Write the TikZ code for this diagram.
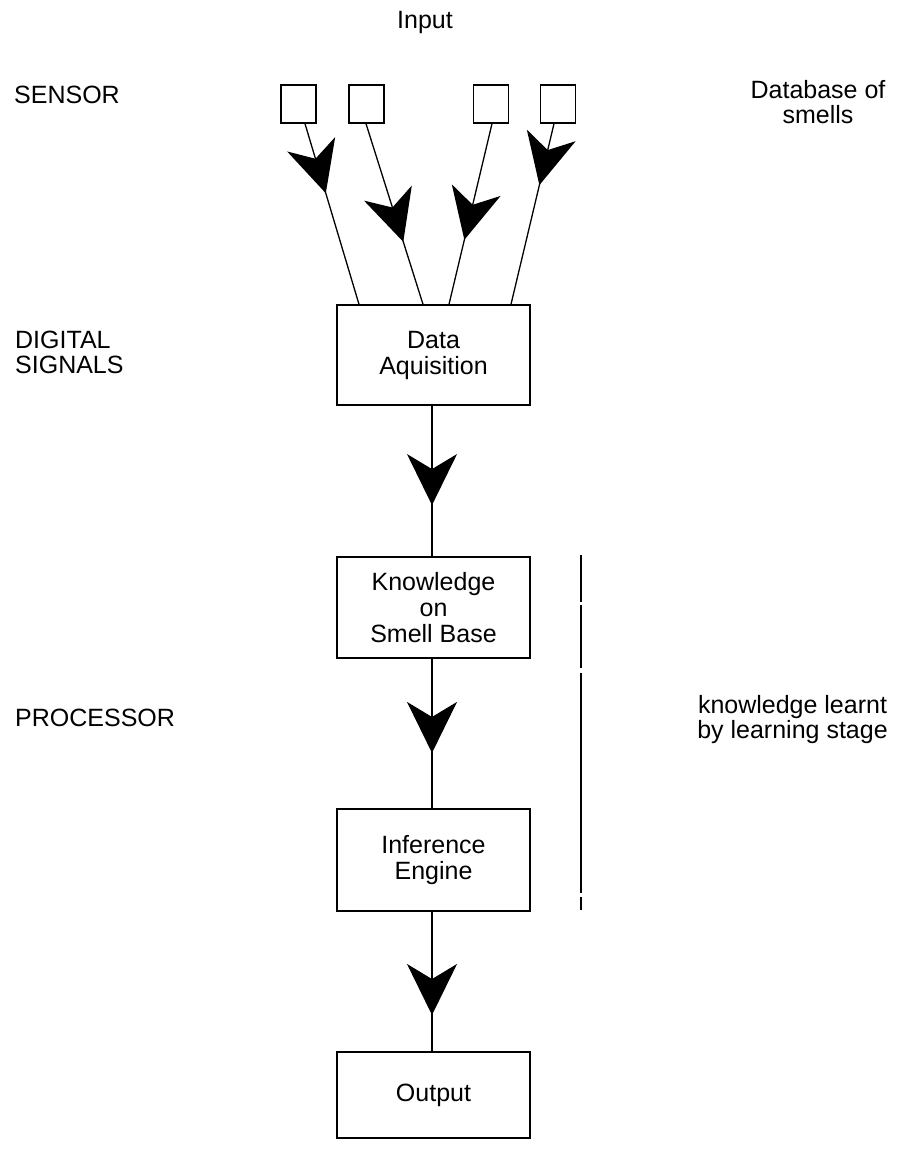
\documentclass[tikz,border=0pt]{standalone}
\usepackage{fontspec}
\setmainfont{Liberation Sans}
\usetikzlibrary{arrows.meta,decorations.markings,calc}
\begin{document}
\begin{tikzpicture}[x=1pt,y=-1pt,
  every node/.style={font=\fontsize{25}{26}\selectfont},
  txt/.style={inner sep=0pt},
  sensorbox/.style={draw,line width=1.4pt,minimum width=35pt,minimum height=38pt,inner sep=0pt},
  procbox/.style={draw,line width=1.4pt,minimum width=193pt,inner sep=0pt,align=center},
  wire/.style={line width=1.3pt},
  bigtip/.style={decoration={markings,
      mark=at position #1 with {\arrow{Stealth[length=51pt,width=50pt,inset=15pt]}}},
    postaction={decorate}}
]
\useasboundingbox (0,0) rectangle (898,1162);

% title
\node[txt,anchor=base] (input) at (425,28) {Input};

% sensor row
\node[sensorbox] (s1) at (298.5,104) {};
\node[sensorbox] (s2) at (366.5,104) {};
\node[sensorbox] (s3) at (491,104) {};
\node[sensorbox] (s4) at (558,104) {};

% processing chain
\node[procbox,minimum height=100pt] (da) at (433.5,355) {Data\\Aquisition};
\node[procbox,minimum height=101pt] (kb) at (433.5,607.5) {Knowledge\\on\\Smell Base};
\node[procbox,minimum height=102pt] (ie) at (433.5,860) {Inference\\Engine};
\node[procbox,minimum height=86pt] (out) at (433.5,1095) {Output};

% sensor wires into the acquisition stage
\draw[wire,bigtip=0.385] ([xshift=6.5pt]s1.south) -- ([xshift=-74.5pt]da.north);
\draw[wire,bigtip=0.654] ([xshift=-0.5pt]s2.south) -- ([xshift=-10.5pt]da.north);
\draw[wire,bigtip=0.643] ([xshift=1pt]s3.south) -- ([xshift=15.5pt]da.north);
\draw[wire,bigtip=0.34] ([xshift=-4pt]s4.south) -- ([xshift=77.5pt]da.north);

% vertical flow
\draw[wire,bigtip=0.66] ([xshift=-1.5pt]da.south) -- ([xshift=-1.5pt]kb.north);
\draw[wire,bigtip=0.63] ([xshift=-1.5pt]kb.south) -- ([xshift=-1.5pt]ie.north);
\draw[wire,bigtip=0.74] ([xshift=-1.5pt]ie.south) -- ([xshift=-1.5pt]out.north);

% bracket marking the learnt knowledge
\coordinate (brtop) at (581,555);
\coordinate (brbot) at (581,910);
\draw[line width=1.2pt,dash pattern=on 47pt off 3pt on 63pt off 5pt on 220pt off 4pt on 13pt off 10pt]
  (brtop) -- (brbot);

% left-hand stage labels
\node[txt,anchor=base west] (sensor) at (14,103) {SENSOR};
\node[txt,anchor=base west] (dig1) at (15,348) {DIGITAL};
\node[txt,anchor=base west] (dig2) at (15,373) {SIGNALS};
\node[txt,anchor=base west] (proc) at (15,726) {PROCESSOR};

% right-hand notes
\node[txt,anchor=base] (db1) at (818,98) {Database of};
\node[txt,anchor=base] (db2) at (818,123) {smells};
\node[txt,anchor=base] (kl1) at (792.5,713) {knowledge learnt};
\node[txt,anchor=base] (kl2) at (792.5,738) {by learning stage};
\end{tikzpicture}
\end{document}
